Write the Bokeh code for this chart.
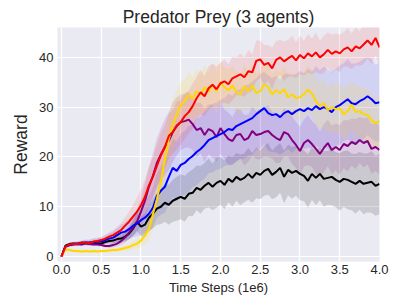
import numpy as np
from bokeh.plotting import figure
from bokeh.models import PrintfTickFormatter, FixedTicker
from bokeh.embed import file_html
from bokeh.resources import INLINE

steps = np.round(np.arange(0, 4.0001, 0.05), 2)

red = [0.0, 2.0, 2.4, 2.5, 2.5, 2.7, 2.8, 2.7, 3.0, 3.1, 3.3,
       3.6, 4.0, 4.3, 4.8, 5.3, 6.2, 7.0, 8.0, 9.0, 10.3,
       12.0, 14.3, 16.0, 18.2, 20.3, 22.0, 24.2, 25.0, 26.3, 27.0,
       28.2, 29.0, 30.2, 31.8, 33.0, 32.2, 33.8, 34.5, 33.6, 34.8,
       35.2, 34.6, 35.8, 36.2, 36.6, 36.0, 37.2, 37.0, 39.3, 39.6,
       38.5, 38.9, 37.8, 39.5, 40.0, 39.2, 39.8, 40.3, 39.4, 40.5,
       39.8, 40.8, 40.2, 41.0, 40.0, 40.6, 41.5, 40.7, 41.2, 40.8,
       41.6, 42.0, 41.2, 42.2, 41.8, 42.6, 43.4, 42.5, 43.9, 42.0]
yellow = [0.0, 1.4, 1.3, 1.1, 1.1, 1.0, 1.1, 1.0, 1.1, 1.0, 1.1,
          1.1, 1.2, 1.3, 1.3, 1.5, 1.7, 1.9, 2.3, 2.6, 3.2,
          4.2, 5.5, 8.5, 11.5, 15.0, 19.5, 23.5, 26.5, 28.5, 30.5,
          31.2, 32.5, 31.8, 33.2, 32.6, 34.0, 33.0, 34.6, 33.2, 35.0,
          34.0, 33.4, 34.4, 33.0, 32.6, 34.2, 33.2, 34.4, 32.8, 33.2,
          34.6, 34.0, 32.6, 33.4, 32.8, 33.6, 32.0, 32.6, 31.8, 32.0,
          32.6, 33.5, 32.8, 31.2, 30.2, 30.8, 29.4, 30.0, 29.6, 29.8,
          28.6, 29.2, 30.5, 29.0, 29.2, 28.6, 28.4, 27.4, 26.8, 27.2]
blue = [0.0, 2.0, 2.3, 2.5, 2.6, 2.6, 2.8, 2.8, 2.9, 3.0, 3.0,
        3.3, 3.6, 3.8, 4.3, 4.8, 5.0, 5.5, 6.2, 6.6, 7.3,
        7.8, 8.6, 9.8, 12.2, 13.2, 14.0, 16.0, 17.8, 17.2, 18.4,
        18.8, 19.6, 20.2, 21.0, 21.6, 22.4, 23.4, 23.8, 24.2, 24.6,
        25.0, 25.6, 25.4, 26.2, 26.6, 27.0, 27.4, 27.8, 28.6, 29.2,
        29.8, 28.8, 28.4, 28.6, 28.0, 28.8, 29.2, 28.6, 29.2, 29.6,
        29.2, 29.8, 29.4, 30.2, 29.6, 30.0, 29.6, 29.0, 30.0, 30.4,
        31.0, 31.6, 30.8, 30.6, 31.2, 31.6, 32.2, 31.6, 30.8, 31.0]
purple = [0.0, 2.0, 2.3, 2.4, 2.5, 2.4, 2.6, 2.5, 2.4, 2.4, 2.3,
          2.1, 2.1, 2.3, 2.6, 3.1, 3.8, 4.8, 5.8, 7.0, 9.0,
          11.2, 14.0, 16.2, 18.8, 20.5, 22.0, 23.2, 25.0, 26.2, 27.0,
          27.2, 27.5, 26.6, 25.4, 25.8, 24.4, 25.6, 25.2, 24.0, 25.8,
          24.6, 23.6, 23.2, 24.4, 24.6, 23.4, 23.8, 25.2, 24.4, 24.6,
          25.0, 25.2, 24.4, 23.8, 23.4, 25.0, 24.6, 23.4, 22.4, 21.2,
          22.8, 23.4, 22.6, 21.6, 20.6, 21.8, 22.8, 21.4, 22.0, 21.4,
          22.6, 22.2, 23.0, 22.6, 23.4, 22.8, 23.2, 21.6, 22.0, 21.4]
black = [0.0, 2.2, 2.5, 2.6, 2.5, 2.8, 2.7, 2.7, 2.8, 2.6, 2.6,
         2.9, 3.1, 3.2, 3.5, 3.6, 4.0, 4.6, 5.6, 7.0, 6.0,
         6.4, 7.8, 8.6, 9.6, 10.0, 10.8, 10.4, 11.2, 11.6, 12.0,
         11.6, 12.6, 12.8, 13.8, 13.4, 14.2, 14.8, 14.0, 14.8, 15.2,
         14.4, 15.6, 15.0, 16.0, 15.4, 15.8, 16.6, 15.8, 16.8, 16.4,
         17.2, 17.6, 16.4, 17.0, 17.8, 16.0, 17.4, 16.8, 17.2, 16.6,
         16.2, 15.2, 16.6, 15.8, 16.6, 15.6, 15.8, 16.0, 15.4, 15.0,
         15.6, 15.4, 15.0, 14.6, 15.2, 14.6, 14.8, 15.0, 14.2, 14.6]

red_sd = [0.0, 0.3, 0.4, 0.4, 0.4, 0.5, 0.5, 0.5, 0.6, 0.6, 0.7,
          0.8, 0.9, 1.0, 1.2, 1.4, 1.7, 2.0, 2.4, 2.8, 3.2,
          3.5, 3.8, 4.0, 4.2, 4.5, 4.3, 4.6, 4.4, 4.8, 4.5,
          4.7, 4.3, 4.6, 4.2, 4.5, 4.0, 4.4, 4.2, 4.6, 4.1,
          4.3, 4.0, 4.4, 3.8, 4.2, 3.9, 4.3, 3.7, 4.1, 3.8,
          4.0, 3.6, 4.2, 3.8, 3.5, 4.0, 3.7, 4.1, 3.6, 3.9,
          3.5, 3.9, 3.6, 4.0, 3.4, 3.8, 3.5, 3.9, 3.6, 3.8,
          3.4, 3.9, 3.6, 3.8, 3.5, 4.0, 3.6, 3.9, 3.5, 3.8]
yellow_sd = [0.0, 0.3, 0.3, 0.3, 0.3, 0.3, 0.3, 0.3, 0.3, 0.3, 0.3,
             0.3, 0.4, 0.4, 0.4, 0.5, 0.5, 0.6, 0.8, 1.0, 1.3,
             1.7, 2.3, 3.0, 3.5, 4.0, 4.5, 4.8, 5.0, 4.8, 4.6,
             4.4, 4.6, 4.2, 4.5, 4.1, 4.4, 4.0, 4.3, 3.9, 4.2,
             4.0, 4.3, 3.8, 4.2, 3.9, 4.4, 4.0, 4.3, 3.8, 4.1,
             4.2, 4.5, 4.0, 4.4, 4.1, 4.6, 4.2, 4.5, 4.3, 4.7,
             4.4, 4.8, 4.5, 4.9, 4.6, 5.0, 4.7, 5.1, 4.8, 5.2,
             4.9, 5.2, 4.8, 5.3, 5.0, 5.4, 5.1, 5.3, 5.0, 5.2]
blue_sd = [0.0, 0.3, 0.4, 0.4, 0.5, 0.5, 0.6, 0.6, 0.7, 0.7, 0.8,
           0.9, 1.0, 1.2, 1.4, 1.6, 1.8, 2.0, 2.3, 2.6, 2.9,
           3.2, 3.6, 4.0, 4.4, 4.8, 5.2, 5.6, 5.8, 6.0, 6.2,
           6.4, 6.6, 6.3, 6.7, 6.5, 6.8, 6.6, 6.9, 6.7, 7.0,
           6.8, 7.1, 6.9, 7.2, 7.0, 7.3, 7.1, 7.4, 7.2, 7.5,
           7.3, 7.6, 7.4, 7.7, 7.5, 7.8, 7.6, 7.8, 7.5, 7.7,
           7.6, 7.9, 7.7, 8.0, 7.8, 8.1, 7.9, 8.0, 7.7, 8.0,
           7.8, 8.1, 7.9, 8.2, 7.9, 8.1, 7.8, 8.0, 7.7, 7.9]
purple_sd = [0.0, 0.3, 0.3, 0.3, 0.3, 0.3, 0.3, 0.3, 0.3, 0.3, 0.3,
             0.3, 0.4, 0.5, 0.6, 0.8, 1.0, 1.3, 1.7, 2.2, 2.8,
             3.4, 4.0, 4.5, 5.0, 5.3, 5.6, 5.8, 6.0, 5.8, 5.6,
             5.4, 5.6, 5.2, 5.5, 5.1, 5.4, 5.0, 5.3, 4.9, 5.2,
             5.0, 5.3, 4.8, 5.2, 4.9, 5.1, 4.7, 5.0, 4.8, 5.1,
             4.9, 5.2, 4.7, 5.0, 4.6, 4.9, 4.5, 4.8, 4.6, 4.9,
             4.7, 5.0, 4.6, 4.9, 4.5, 4.8, 4.6, 4.9, 4.7, 5.0,
             4.8, 5.1, 4.7, 5.0, 4.6, 4.9, 4.7, 5.0, 4.8, 5.0]
black_sd = [0.0, 0.3, 0.3, 0.3, 0.3, 0.3, 0.3, 0.3, 0.3, 0.3, 0.4,
            0.4, 0.5, 0.6, 0.7, 0.8, 1.0, 1.2, 1.5, 1.8, 2.0,
            2.3, 2.6, 2.9, 3.2, 3.5, 3.8, 4.0, 4.2, 4.4, 4.5,
            4.6, 4.4, 4.7, 4.5, 4.8, 4.6, 4.9, 4.7, 5.0, 4.8,
            4.9, 4.7, 5.0, 4.8, 5.1, 4.9, 5.2, 5.0, 5.1, 4.9,
            5.0, 5.2, 4.9, 5.1, 5.0, 5.3, 5.1, 5.2, 5.0, 5.3,
            5.1, 5.4, 5.2, 5.5, 5.3, 5.6, 5.4, 5.7, 5.5, 5.8,
            5.6, 5.9, 5.7, 6.0, 5.8, 6.1, 5.9, 6.2, 6.0, 6.1]

x_ticks = [0.0, 0.5, 1.0, 1.5, 2.0, 2.5, 3.0, 3.5, 4.0]
y_ticks = [0, 10, 20, 30, 40]

series = [
    (black, black_sd, "#000000", 0.14),
    (purple, purple_sd, "#800080", 0.12),
    (blue, blue_sd, "#0000FF", 0.10),
    (yellow, yellow_sd, "#FFD700", 0.14),
    (red, red_sd, "#FF0000", 0.10),
]

FONT = "Liberation Sans"
TXT = "#262626"

p = figure(width=399, height=297, x_range=(-0.05, 4.0), y_range=(-1, 46),
           output_backend="svg", toolbar_location=None,
           title="Predator Prey (3 agents)",
           min_border_left=57, min_border_right=20,
           min_border_top=27, min_border_bottom=35)

p.background_fill_color = "#EAEAF2"
p.border_fill_color = "white"
p.outline_line_color = None

p.title.text_font = FONT
p.title.text_font_size = "17.5px"
p.title.text_font_style = "normal"
p.title.text_color = TXT
p.title.align = "center"
p.title.standoff = 2

for ax in (p.xaxis[0], p.yaxis[0]):
    ax.axis_line_color = None
    ax.major_tick_line_color = None
    ax.minor_tick_line_color = None
    ax.major_tick_out = 0
    ax.major_tick_in = 0
    ax.minor_tick_out = 0
    ax.major_label_text_font = FONT
    ax.major_label_text_font_size = "13px"
    ax.major_label_text_color = TXT
    ax.axis_label_text_font = FONT
    ax.axis_label_text_font_style = "normal"
    ax.axis_label_text_color = TXT

p.xaxis.axis_label = "Time Steps (1e6)"
p.xaxis.axis_label_text_font_size = "13px"
p.xaxis.ticker = FixedTicker(ticks=x_ticks)
p.xaxis.formatter = PrintfTickFormatter(format="%.1f")
p.xaxis.major_label_standoff = 3
p.xaxis.axis_label_standoff = 3

p.yaxis.axis_label = "Reward"
p.yaxis.axis_label_text_font_size = "17.5px"
p.yaxis.ticker = FixedTicker(ticks=y_ticks)
p.yaxis.major_label_standoff = 4
p.yaxis.axis_label_standoff = 5

p.xgrid.ticker = FixedTicker(ticks=x_ticks)
p.ygrid.ticker = FixedTicker(ticks=y_ticks)
p.grid.grid_line_color = "white"
p.grid.grid_line_width = 1.2

for vals, sd, col, a in series:
    v = np.array(vals)
    s = np.array(sd)
    p.varea(x=steps, y1=v - s, y2=v + s, fill_color=col, fill_alpha=a)

for vals, sd, col, a in series:
    p.line(x=steps, y=vals, line_color=col, line_width=2)

open("out.html", "w").write(file_html(p, INLINE))
